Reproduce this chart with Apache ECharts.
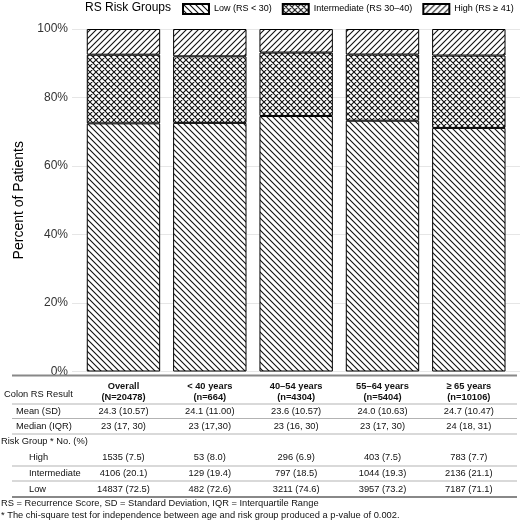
<!DOCTYPE html>
<html lang="en">
<head>
    <meta charset="UTF-8">
    <title>Colon RS risk groups by age</title>
    <script src="https://cdn.jsdelivr.net/npm/echarts@6/dist/echarts.min.js"></script>
    <style>
        html, body { margin: 0; padding: 0; background: #fff; }
        #chart { width: 520px; height: 522px; }
    </style>
</head>
<body>
    <div id="chart"></div>
    <script>
        const categories = ["Overall", "< 40 years", "40–54 years", "55–64 years", "≥ 65 years"]
        const groupN = ["N=20478", "n=664", "n=4304", "n=5404", "n=10106"]
        const totals = [20478, 664, 4304, 5404, 10106]
        const lowCounts = [14837, 482, 3211, 3957, 7187]
        const intermediateCounts = [4106, 129, 797, 1044, 2136]
        const highCounts = [1535, 53, 296, 403, 783]
        const lowPct = [72.5, 72.6, 74.6, 73.2, 71.1]
        const intermediatePct = [20.1, 19.4, 18.5, 19.3, 21.1]
        const highPct = [7.5, 8.0, 6.9, 7.5, 7.7]
        const meanSD = ["24.3 (10.57)", "24.1 (11.00)", "23.6 (10.57)", "24.0 (10.63)", "24.7 (10.47)"]
        const medianIQR = ["23 (17, 30)", "23 (17,30)", "23 (16, 30)", "23 (17, 30)", "24 (18, 31)"]
        const yTicks = [0, 20, 40, 60, 80, 100]

        const FONT = "'Liberation Sans', Arial, sans-serif"
        const TABLE_FONT = "9.3px " + FONT

        // hatch tiles: "back" = \\\ , "fwd" = /// , "cross" = both
        function hatch(kind) {
            const s = 6
            const c = document.createElement("canvas")
            c.width = c.height = s
            const g = c.getContext("2d")
            g.fillStyle = "#fff"
            g.fillRect(0, 0, s, s)
            g.strokeStyle = "#111"
            g.lineWidth = 1.1
            g.beginPath()
            if (kind !== "fwd") {
                g.moveTo(-1, -1); g.lineTo(s + 1, s + 1)
                g.moveTo(-1, s - 1); g.lineTo(1, s + 1)
                g.moveTo(s - 1, -1); g.lineTo(s + 1, 1)
            }
            if (kind !== "back") {
                g.moveTo(-1, s + 1); g.lineTo(s + 1, -1)
                g.moveTo(-1, 1); g.lineTo(1, -1)
                g.moveTo(s - 1, s + 1); g.lineTo(s + 1, s - 1)
            }
            g.stroke()
            return { image: c, repeat: "repeat" }
        }

        const share = counts => counts.map((v, i) => v / totals[i] * 100)

        function barSeries(name, counts, kind) {
            return {
                name: name,
                type: "bar",
                stack: "rs",
                xAxisIndex: 1, yAxisIndex: 1,
                barWidth: "85%",
                data: share(counts),
                itemStyle: { color: hatch(kind), borderColor: "#000", borderWidth: 1 },
                emphasis: { disabled: true }
            }
        }

        const yMin = yTicks[0], yMax = yTicks[yTicks.length - 1]
        const chart = echarts.init(document.getElementById("chart"))
        chart.setOption({
            animation: false,
            title: {
                text: "RS Risk Groups",
                left: 85, top: 2, padding: 0,
                textStyle: { fontFamily: FONT, fontSize: 12, fontWeight: "normal", color: "#000" }
            },
            legend: {
                left: 182, top: 3, padding: 0,
                itemWidth: 26, itemHeight: 10, itemGap: 10,
                icon: "rect",
                textStyle: { fontFamily: FONT, fontSize: 9, color: "#000" }
            },
            // panel with gridlines (wider, like the plot panel) and the bar grid inside it
            grid: [
                { left: 72, right: 0, top: 29, bottom: 150.5 },
                { left: 80.3, right: 8, top: 29, bottom: 150.5 }
            ],
            xAxis: [
                { type: "value", gridIndex: 0, show: false, min: 0, max: 1 },
                { type: "category", gridIndex: 1, show: false, data: categories }
            ],
            yAxis: [
                {
                    type: "value", gridIndex: 0, min: yMin, max: yMax, interval: 20,
                    name: "Percent of Patients",
                    nameLocation: "middle", nameGap: 46,
                    nameTextStyle: { fontFamily: FONT, fontSize: 14, color: "#000" },
                    axisLine: { show: false }, axisTick: { show: false },
                    axisLabel: { formatter: "{value}%", fontFamily: FONT, fontSize: 12, color: "#333", margin: 4 },
                    splitLine: { lineStyle: { color: "#e6e6e6", width: 1 } }
                },
                { type: "value", gridIndex: 1, min: yMin, max: yMax, show: false, splitLine: { show: false } }
            ],
            series: [
                barSeries("Low (RS < 30)", lowCounts, "back"),
                barSeries("Intermediate (RS 30–40)", intermediateCounts, "cross"),
                barSeries("High (RS ≥ 41)", highCounts, "fwd")
            ]
        })

        // table under the plot, columns aligned with the bars
        const colX = categories.map((_, i) => chart.convertToPixel({ xAxisIndex: 1 }, i))
        const els = []
        const txt = (text, x, y, align, bold) => els.push({
            type: "text", z: 10,
            style: {
                text: text, x: x, y: y, align: align || "center", verticalAlign: "middle",
                font: (bold ? "bold " : "") + TABLE_FONT, fill: "#111"
            }
        })
        const rule = (y, w, color) => els.push({
            type: "line", z: 10,
            shape: { x1: 12, y1: y, x2: 517, y2: y },
            style: { stroke: color, lineWidth: w }
        })

        rule(375.5, 2, "#888")
        categories.forEach((c, i) => {
            txt(c, colX[i], 386, "center", true)
            txt("(" + groupN[i] + ")", colX[i], 397.5, "center", true)
            txt(meanSD[i], colX[i], 411)
            txt(medianIQR[i], colX[i], 426.5)
            txt(highCounts[i] + " (" + highPct[i].toFixed(1) + ")", colX[i], 457.5)
            txt(intermediateCounts[i] + " (" + intermediatePct[i].toFixed(1) + ")", colX[i], 473)
            txt(lowCounts[i] + " (" + lowPct[i].toFixed(1) + ")", colX[i], 489)
        })
        txt("Colon RS Result", 4, 394, "left")
        rule(404, 1, "#b3b3b3")
        txt("Mean (SD)", 16, 411, "left")
        rule(418.5, 1, "#b3b3b3")
        txt("Median (IQR)", 16, 426.5, "left")
        rule(434, 1, "#b3b3b3")
        txt("Risk Group * No. (%)", 1, 441.5, "left")
        txt("High", 29, 457.5, "left")
        rule(466, 1, "#b3b3b3")
        txt("Intermediate", 29, 473, "left")
        rule(481, 1, "#b3b3b3")
        txt("Low", 29, 489, "left")
        rule(497, 2, "#888")
        txt("RS = Recurrence Score, SD = Standard Deviation, IQR = Interquartile Range", 1, 503.5, "left")
        txt("* The chi-square test for independence between age and risk group produced a p-value of 0.002.", 1, 515.5, "left")

        chart.setOption({ graphic: { elements: els } })
    </script>
</body>
</html>
